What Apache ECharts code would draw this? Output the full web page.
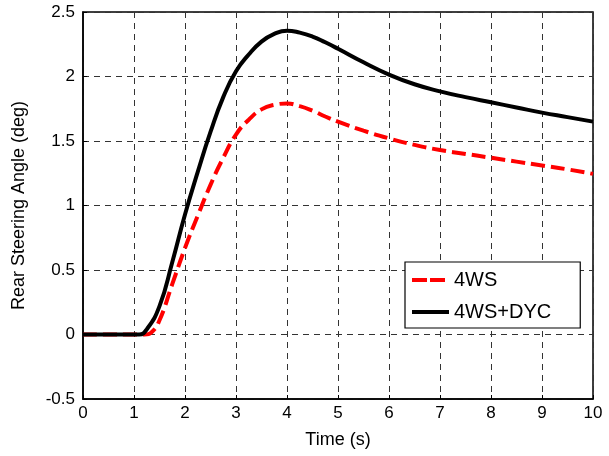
<!DOCTYPE html>
<html>
<head>
<meta charset="utf-8">
<script src="https://cdn.jsdelivr.net/npm/echarts@6/dist/echarts.min.js"></script>
<style>html,body{margin:0;padding:0;background:#fff}#c{width:609px;height:456px}</style>
</head>
<body>
<div id="c"></div>
<script>
const xTicks = [0,1,2,3,4,5,6,7,8,9,10];
const yTicks = [-0.5,0,0.5,1,1.5,2,2.5];
const timeDYC = [0,0.5,1.0,1.1,1.25,1.5,1.75,2.0,2.25,2.5,2.75,3.0,3.25,3.5,3.75,4.0,4.25,4.5,4.75,5.0,5.5,6,6.5,7,7.5,8,8.5,9,9.5,10];
const valDYC  = [0,0,0,0,0.04,0.22,0.56,0.93,1.26,1.57,1.84,2.04,2.17,2.27,2.33,2.355,2.34,2.31,2.265,2.215,2.11,2.015,1.94,1.885,1.84,1.80,1.76,1.72,1.685,1.65];
const time4WS = [0,0.5,1.0,1.2,1.35,1.5,1.75,2.0,2.25,2.5,2.75,3.0,3.25,3.5,3.75,4.0,4.25,4.5,4.75,5.0,5.5,6,6.5,7,7.5,8,8.5,9,9.5,10];
const val4WS  = [0,0,0,0,0.02,0.11,0.39,0.67,0.92,1.16,1.37,1.55,1.665,1.745,1.78,1.79,1.77,1.735,1.69,1.65,1.58,1.52,1.47,1.43,1.40,1.37,1.34,1.31,1.28,1.245];
const seriesNames = ['4WS','4WS+DYC'];

const font = 'Liberation Sans, Arial, Helvetica, sans-serif';
const chart = echarts.init(document.getElementById('c'), null, {renderer:'canvas'});
const gridLine = {show:true, lineStyle:{color:'#333', width:1, type:[6,5]}};
chart.setOption({
  animation:false,
  backgroundColor:'#fff',
  grid:{left:83, right:16, top:12, bottom:57, containLabel:false, outerBoundsMode:'none',
    show:true, borderColor:'#000', borderWidth:1.5, backgroundColor:'transparent'},
  xAxis:{type:'value', min:xTicks[0], max:xTicks[xTicks.length-1], interval:1,
    name:'Time (s)', nameLocation:'middle', nameGap:32,
    nameTextStyle:{fontFamily:font, fontSize:18, color:'#000'},
    axisLine:{show:true, onZero:false, lineStyle:{color:'#000', width:1.5}},
    axisTick:{show:true, inside:true, length:4, lineStyle:{color:'#000'}},
    axisLabel:{fontFamily:font, fontSize:17, color:'#000', margin:6},
    splitLine:gridLine},
  yAxis:{type:'value', min:yTicks[0], max:yTicks[yTicks.length-1], interval:0.5,
    name:'Rear Steering Angle (deg)', nameLocation:'middle', nameGap:55,
    nameTextStyle:{fontFamily:font, fontSize:18, color:'#000'},
    axisLine:{show:true, onZero:false, lineStyle:{color:'#000', width:1.5}},
    axisTick:{show:true, inside:true, length:4, lineStyle:{color:'#000'}},
    axisLabel:{fontFamily:font, fontSize:17, color:'#000', margin:8},
    splitLine:gridLine},
  legend:{orient:'vertical', left:405, top:262,
    padding:[8,29,6,7], itemGap:12, itemWidth:37, itemHeight:4, itemTextGap:7,
    backgroundColor:'#fff', borderColor:'#000', borderWidth:1.2,
    textStyle:{fontFamily:font, fontSize:20, color:'#000'},
    data:[
      {name:seriesNames[0], icon:'path://M0,0H15V4H0Z M18,0H33V4H18Z M37,0V0.01H36.99Z', itemStyle:{color:'#ff0000'}},
      {name:seriesNames[1], icon:'rect', itemStyle:{color:'#000'}}
    ]},
  series:[
    {name:seriesNames[0], type:'line', data:time4WS.map((t,i)=>[t,val4WS[i]]),
     symbol:'none', smooth:0.5, lineStyle:{color:'#ff0000', width:4, type:[14,6]}, itemStyle:{color:'#ff0000'}, z:3},
    {name:seriesNames[1], type:'line', data:timeDYC.map((t,i)=>[t,valDYC[i]]),
     symbol:'none', smooth:0.5, lineStyle:{color:'#000', width:4}, itemStyle:{color:'#000'}, z:4}
  ]
});
</script>
</body>
</html>
